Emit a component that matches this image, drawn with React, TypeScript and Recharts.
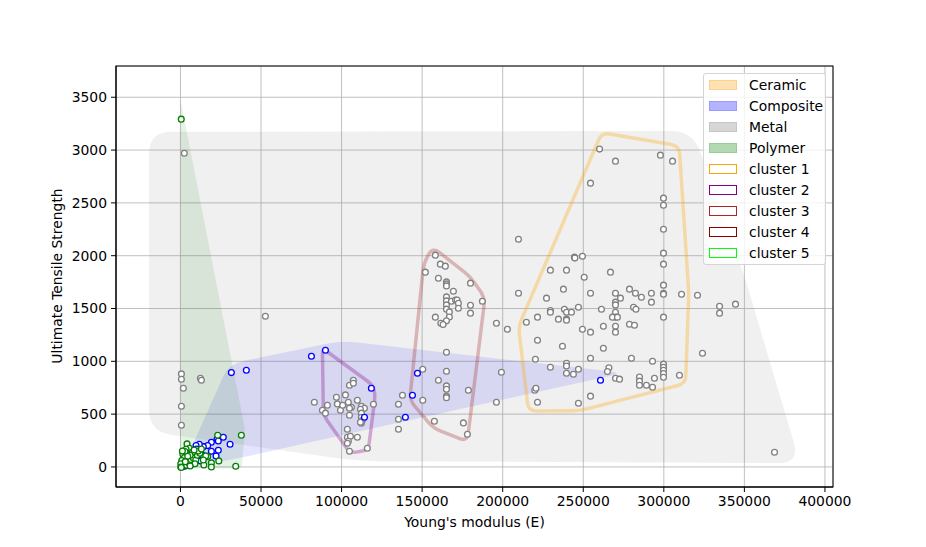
import React from "react";
import { ScatterChart, Scatter, XAxis, YAxis, CartesianGrid } from "recharts";

type Pt = [number, number];

const xTicks = [0, 50000, 100000, 150000, 200000, 250000, 300000, 350000, 400000];
const yTicks = [0, 500, 1000, 1500, 2000, 2500, 3000, 3500];

// material points (E, UTS)
const metalPoints: Pt[] = [
  [2400, 2970], [600, 881], [600, 830], [12400, 840], [13000, 821], [1800, 745], [600, 575], [600, 395], [52700, 1427],
  [83100, 613], [88100, 537], [90000, 509], [91200, 584], [96800, 660], [97400, 597], [99300, 537], [100700, 584],
  [102400, 682], [104900, 774], [107300, 821], [107300, 792], [104200, 613], [106100, 565], [104900, 556], [109800, 632],
  [112300, 575], [114200, 556], [111700, 546], [119800, 594], [112300, 509], [112300, 471], [112900, 442], [112300, 414],
  [111700, 423], [104900, 490], [103600, 357], [103600, 281], [105500, 291], [104200, 243], [103600, 224], [104900, 149],
  [109800, 281], [116000, 177],
  [135300, 594], [135300, 452], [135300, 357], [137800, 679], [150400, 925], [150400, 632], [157600, 433], [160100, 821],
  [165100, 1086], [165100, 906], [165100, 767], [165100, 736], [165100, 672], [165100, 656], [175600, 417], [178100, 310],
  [178700, 726], [196100, 613], [199200, 897],
  [158200, 2005], [161300, 1920], [164400, 1901], [152000, 1844], [160100, 1787], [165100, 1752], [165100, 1733],
  [165100, 1714], [180000, 1740], [169400, 1664], [165100, 1610], [165100, 1572], [165100, 1534], [165100, 1494],
  [168200, 1569], [170700, 1581], [171700, 1581], [172500, 1550], [172500, 1503], [166900, 1468], [166900, 1420],
  [165100, 1383], [161600, 1361], [163000, 1348], [158200, 1418], [180000, 1531], [180000, 1456], [187400, 1569],
  [196100, 1361], [202900, 1304], [209800, 1645], [209800, 2156],
  [254500, 2687], [260100, 3009], [270000, 2895], [297900, 2952], [305400, 2895], [299800, 2545], [299800, 2478],
  [299800, 2251], [299800, 2024], [299800, 1920], [266900, 1844], [244500, 1986], [244800, 1977], [249500, 1995],
  [229600, 1863], [239600, 1863], [250600, 1796], [237700, 1683], [227200, 1598], [254500, 1645], [214700, 1370],
  [221600, 1418], [221600, 1200], [220300, 1020], [219900, 726], [220600, 745], [221600, 613], [229600, 1480],
  [229600, 1465], [234600, 1399], [238300, 1493], [239600, 1465], [242700, 1465], [239600, 1399], [239600, 1389],
  [247000, 1512], [249500, 1304], [254500, 1276], [237100, 1143], [229600, 944], [239600, 982], [239600, 956],
  [239600, 887], [243900, 878], [247000, 925], [254500, 1029], [254500, 670], [247000, 603], [299800, 1721],
  [299800, 1645], [299800, 1635], [292300, 1645], [292300, 1560], [286100, 1607], [282400, 1645], [278700, 1683],
  [273100, 1598], [270000, 1645], [270000, 1560], [270000, 1534], [270000, 1465], [270000, 1418], [268100, 1418],
  [271200, 1418], [261300, 1493], [281200, 1512], [282700, 1493], [262500, 1332], [270000, 1332], [270000, 1276],
  [278700, 1351], [281800, 1342], [299800, 1418], [311000, 1635], [320900, 1626], [334600, 1522], [334600, 1456],
  [344500, 1541], [262500, 1124], [279900, 1029], [293000, 1001], [324000, 1077], [299800, 973], [299800, 944],
  [299800, 916], [299800, 884], [299800, 849], [309700, 868], [265900, 938], [265000, 903], [270000, 840],
  [272500, 831], [284900, 852], [284900, 812], [284900, 774], [289200, 774], [293000, 755], [294200, 840],
  [368700, 139],
];

const compositePoints: Pt[] = [
  [31600, 893], [40900, 916], [81300, 1048], [90000, 1105], [118500, 745], [114200, 471], [147100, 887],
  [144000, 679], [139600, 471], [260700, 821],
  [26600, 281], [22700, 262], [23500, 246], [19200, 234], [16900, 202], [14200, 192], [11700, 215], [9700, 202],
  [30800, 215], [23500, 158], [19200, 149], [22100, 104], [16700, 101], [14200, 107], [12200, 158], [10100, 170],
  [8000, 114], [6400, 73], [4900, 35], [7000, 28], [12600, 57], [11500, 130], [3000, 10], [1500, 5],
];

const polymerPoints: Pt[] = [
  [500, 3293], [23100, 300], [37800, 300], [34300, 7], [23800, 57], [19200, 38], [19200, 0], [14500, 19],
  [16900, 98], [15700, 104], [14200, 66], [4100, 218], [5500, 177], [3500, 168], [1500, 120], [2500, 90],
  [800, 60], [200, 30], [200, 0], [3800, 15], [5000, 40], [6500, 70], [8000, 85], [9500, 65], [9000, 30],
  [10500, 110], [12000, 130], [11000, 150], [7500, 140], [6000, 110], [2800, 145], [1200, 150], [4500, 100],
  [3000, 50], [6000, 10], [500, -5], [13000, 170], [8500, 160],
];

// hull outlines
const metalHull: Pt[] = [[-19500, 3172], [318000, 3180], [350000, 1810], [384500, 35], [110000, 55], [-19500, 335]];
const compositeHull: Pt[] = [[1000, -15], [30000, 975], [100000, 1195], [275000, 890], [37000, 85]];
const polymerHull: Pt[] = [[100, 3470], [40100, 350], [38000, -15], [0, -15]];
const cluster1Hull: Pt[] = [[261500, 3165], [309500, 3040], [315500, 1650], [313500, 790], [248000, 533], [216000, 530], [209800, 1330]];
const cluster2Hull: Pt[] = [[88100, 1124], [119000, 780], [121000, 690], [116600, 161], [105300, 130], [88700, 492]];
const cluster3Hull: Pt[] = [[156600, 2080], [180000, 1800], [189000, 1600], [178000, 240], [157000, 366], [142300, 630], [151000, 1930]];

const legendItems = [
  { label: "Ceramic", fill: "#ffe2b3", border: "#ffd08a", width: 1 },
  { label: "Composite", fill: "#b3b3ff", border: "#9a9aff", width: 1 },
  { label: "Metal", fill: "#d6d6d6", border: "#c6c6c6", width: 1 },
  { label: "Polymer", fill: "#b3d9b3", border: "#99cc99", width: 1 },
  { label: "cluster 1", fill: "#ffffff", border: "#ffa500", width: 1.5 },
  { label: "cluster 2", fill: "#ffffff", border: "#800080", width: 1.5 },
  { label: "cluster 3", fill: "#ffffff", border: "#b22222", width: 1.5 },
  { label: "cluster 4", fill: "#ffffff", border: "#8b0000", width: 1.5 },
  { label: "cluster 5", fill: "#ffffff", border: "#00ff00", width: 1.5 },
];

const toData = (pts: Pt[]) => pts.map(([x, y]) => ({ x, y }));

function roundedPath(pts: { x: number; y: number }[], r: number) {
  const n = pts.length;
  let d = "";
  for (let i = 0; i < n; i++) {
    const p0 = pts[(i - 1 + n) % n];
    const p1 = pts[i];
    const p2 = pts[(i + 1) % n];
    const d1 = Math.hypot(p0.x - p1.x, p0.y - p1.y) || 1;
    const d2 = Math.hypot(p2.x - p1.x, p2.y - p1.y) || 1;
    const r1 = Math.min(r, d1 / 2);
    const r2 = Math.min(r, d2 / 2);
    const ax = p1.x + ((p0.x - p1.x) * r1) / d1;
    const ay = p1.y + ((p0.y - p1.y) * r1) / d1;
    const bx = p1.x + ((p2.x - p1.x) * r2) / d2;
    const by = p1.y + ((p2.y - p1.y) * r2) / d2;
    d += `${i === 0 ? "M" : "L"}${ax},${ay} Q${p1.x},${p1.y} ${bx},${by} `;
  }
  return d + "Z";
}

const NoDot = () => <g />;

function hull(key: string, pts: Pt[], opts: { fill: string; fillOpacity: number; stroke?: string; strokeOpacity?: number; strokeWidth?: number; r: number }) {
  return (
    <Scatter
      key={key}
      data={toData(pts)}
      isAnimationActive={false}
      shape={NoDot}
      line={(p: any) => (
        <path
          d={roundedPath(p.points, opts.r)}
          fill={opts.fill}
          fillOpacity={opts.fillOpacity}
          stroke={opts.stroke ?? "none"}
          strokeOpacity={opts.strokeOpacity ?? 1}
          strokeWidth={opts.strokeWidth ?? 0}
          strokeLinejoin="round"
        />
      )}
    />
  );
}

function dot(color: string) {
  return (props: any) => (
    <circle cx={props.cx} cy={props.cy} r={2.9} fill="#ffffff" stroke={color} strokeWidth={1.3} />
  );
}

const font = "'DejaVu Sans', sans-serif";

export default function App() {
  return (
    <div style={{ position: "absolute", left: 0, top: 0, width: 926, height: 547, background: "#fff", fontFamily: font }}>
      <ScatterChart width={926} height={547} margin={{ top: 66, right: 93, bottom: 30, left: 56 }}>
        <CartesianGrid stroke="#b0b0b0" strokeWidth={0.8} />
        <XAxis
          type="number"
          dataKey="x"
          domain={[-40000, 405000]}
          ticks={xTicks}
          allowDataOverflow
          height={30}
          tickSize={5}
          tickMargin={4}
          stroke="#000"
          tick={{ fill: "#000", fontSize: 13.9, fontFamily: font }}
        />
        <YAxis
          type="number"
          dataKey="y"
          domain={[-190, 3796]}
          ticks={yTicks}
          allowDataOverflow
          width={60}
          tickSize={5}
          tickMargin={4}
          stroke="#000"
          tick={{ fill: "#000", fontSize: 13.9, fontFamily: font }}
        />
        {hull("metal", metalHull, { fill: "#808080", fillOpacity: 0.12, r: 22 })}
        {hull("composite", compositeHull, { fill: "#0000ff", fillOpacity: 0.1, r: 14 })}
        {hull("polymer", polymerHull, { fill: "#008000", fillOpacity: 0.1, r: 5 })}
        {hull("c1", cluster1Hull, { fill: "none", fillOpacity: 0, stroke: "#ffa500", strokeOpacity: 0.3, strokeWidth: 3.5, r: 8 })}
        {hull("c2", cluster2Hull, { fill: "none", fillOpacity: 0, stroke: "#800080", strokeOpacity: 0.3, strokeWidth: 3.5, r: 6 })}
        {hull("c3", cluster3Hull, { fill: "none", fillOpacity: 0, stroke: "#a52a2a", strokeOpacity: 0.3, strokeWidth: 3.5, r: 8 })}
        <Scatter data={toData(metalPoints)} shape={dot("#808080")} isAnimationActive={false} />
        <Scatter data={toData(compositePoints)} shape={dot("#0000ff")} isAnimationActive={false} />
        <Scatter data={toData(polymerPoints)} shape={dot("#008000")} isAnimationActive={false} />
        {/* frame */}
        <rect x={116} y={66} width={717} height={421} fill="none" stroke="#000" strokeWidth={1} />
      </ScatterChart>
      <div style={{ position: "absolute", left: 0, width: 926, top: 514, textAlign: "center", paddingLeft: 23, boxSizing: "border-box", fontSize: 13.9, color: "#000" }}>
        Young's modulus (E)
      </div>
      <div style={{ position: "absolute", left: 57, top: 276, transform: "translate(-50%, -50%) rotate(-90deg)", whiteSpace: "nowrap", fontSize: 13.9, color: "#000" }}>
        Ultimate Tensile Strength
      </div>
      <div
        style={{
          position: "absolute",
          left: 703,
          top: 73,
          width: 123,
          height: 192,
          boxSizing: "border-box",
          border: "1px solid #d5d5d5",
          borderRadius: 3,
          background: "rgba(255,255,255,0.8)",
          fontSize: 13.9,
          color: "#000",
        }}
      >
        {legendItems.map((it, i) => (
          <div key={it.label} style={{ position: "absolute", left: 5, top: 4 + i * 21, height: 14, display: "flex", alignItems: "center" }}>
            <div style={{ width: 28, height: 10, boxSizing: "border-box", background: it.fill, border: `${it.width}px solid ${it.border}` }} />
            <span style={{ marginLeft: 12, lineHeight: "14px" }}>{it.label}</span>
          </div>
        ))}
      </div>
    </div>
  );
}
